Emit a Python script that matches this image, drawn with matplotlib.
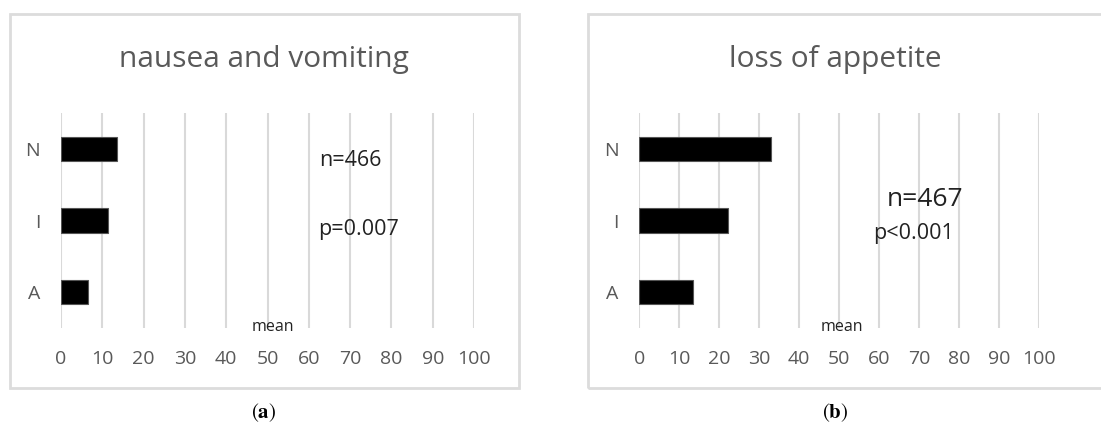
import matplotlib
matplotlib.use('Agg')
import matplotlib.pyplot as plt
from matplotlib.patches import Rectangle

plt.rcParams['font.family'] = ['Open Sans', 'DejaVu Sans']
plt.rcParams['mathtext.fontset'] = 'stix'

# datos
categorias = ['A', 'I', 'N']
nausea = [6.6, 11.5, 13.6]
apetito = [13.5, 22.3, 32.9]
titulos = ['nausea and vomiting', 'loss of appetite']
etiquetas = ['(a)', '(b)']

W, H = 1101, 425
fig = plt.figure(figsize=(W / 100, H / 100), dpi=100)

def px(x0, y0, x1, y1):
    # convertir pixeles (arriba-izquierda) a coordenadas de figura
    return [x0 / W, 1 - y1 / H, (x1 - x0) / W, (y1 - y0) / H]

gris = '#595959'

def panel(rect_ax, caja, valores, titulo, etiqueta, cx_titulo, cx_mean):
    # caja del grafico
    fig.patches.append(Rectangle((caja[0] / W, 1 - caja[3] / H),
                                 (caja[2] - caja[0]) / W, (caja[3] - caja[1]) / H,
                                 transform=fig.transFigure, fill=False,
                                 edgecolor='#dcdcdc', linewidth=2))
    ax = fig.add_axes(px(*rect_ax))
    ax.barh(range(len(categorias)), valores, height=0.34, color='black',
            edgecolor='#555555', linewidth=0.8, zorder=3)
    ax.set_xlim(0, 100)
    ax.set_ylim(-0.5, 2.5)
    ax.set_xticks(range(0, 101, 10))
    ax.set_yticks(range(len(categorias)))
    ax.set_yticklabels(categorias)
    ax.grid(axis='x', color='#d9d9d9', linewidth=1.5, zorder=0)
    for s in ax.spines.values():
        s.set_visible(False)
    ax.tick_params(length=0, colors=gris, labelsize=14)
    ax.tick_params(axis='x', pad=16)
    ax.tick_params(axis='y', pad=15)
    fig.text(cx_titulo / W, 1 - 60 / H, titulo, ha='center', va='center',
             fontsize=21.5, color=gris)
    fig.text(cx_mean / W, 1 - 327 / H, 'mean', ha='center', va='center',
             fontsize=11.5, color='#222222')
    fig.text(cx_titulo / W, 1 - 413 / H, r'$(\mathbf{%s})$' % etiqueta[1],
             ha='center', va='center', fontsize=15, color='black')
    return ax

panel((61, 113, 474, 328), (10, 14, 519, 388), nausea, titulos[0], etiquetas[0], 264, 273)
panel((639.3, 113, 1038.7, 328), (588, 14, 1120, 388), apetito, titulos[1], etiquetas[1], 835, 842)

fig.text(319 / W, 1 - 160 / H, 'n=466', ha='left', va='center', fontsize=15.5, color='#222222')
fig.text(318 / W, 1 - 230 / H, 'p=0.007', ha='left', va='center', fontsize=15.5, color='#222222')
fig.text(887 / W, 1 - 200 / H, 'n=467', ha='left', va='center', fontsize=19, color='#222222')
fig.text(873 / W, 1 - 234 / H, 'p<0.001', ha='left', va='center', fontsize=15.5, color='#222222')

fig.savefig('out.png', dpi=100, facecolor='white')
